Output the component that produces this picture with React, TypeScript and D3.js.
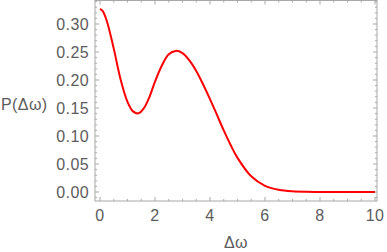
import * as d3 from "d3";

// curve
const omega = [0, 0.1, 0.25, 0.5, 0.75, 1.0, 1.2, 1.4, 1.6, 1.8, 2.0, 2.25, 2.5, 2.75, 3.0, 3.25, 3.5, 3.75, 4.0, 4.25, 4.5, 4.75, 5.0, 5.5, 6.0, 6.5, 7.0, 7.5, 8, 9, 10];
const prob = [0.327, 0.323, 0.305, 0.256, 0.201, 0.161, 0.144, 0.1405, 0.15, 0.17, 0.197, 0.226, 0.246, 0.252, 0.248, 0.235, 0.216, 0.192, 0.166, 0.138, 0.11, 0.084, 0.061, 0.028, 0.011, 0.004, 0.0012, 0.0003, 0, 0, 0];

const xTicks = [0, 2, 4, 6, 8, 10];
const yTicks = [0, 0.05, 0.1, 0.15, 0.2, 0.25, 0.3];
const xLabel = "Δω";
const yLabel = "P(Δω)";

const W = 387;
const H = 252;
const frame = { left: 95, right: 377, top: 0.5, bottom: 201 };

const FONT = "'Liberation Sans', Arial, sans-serif";
const TEXT = "#5c5c5c";
const AXIS = "#a8a8a8";

export default function App() {
  const x = d3.scaleLinear().domain([0, 10]).range([100, 375]);
  const y = d3.scaleLinear().domain([0, 0.3]).range([192, 24]);

  const points = omega.map((w, i) => [w, prob[i]] as [number, number]);
  const line = d3
    .line<[number, number]>()
    .x((d) => x(d[0]))
    .y((d) => y(d[1]))
    .curve(d3.curveCatmullRom.alpha(0.5))(points)!;

  // minor ticks every 0.5 in x, every 0.01 in y
  const xMinor = d3.range(0, 10.01, 0.5).filter((v) => Math.abs(v % 2) > 1e-6);
  const yMinor = d3.range(-0.01, 0.341, 0.01).filter(
    (v) => Math.abs(Math.round(v * 100) % 5) !== 0
  );

  return (
    <svg
      width={W}
      height={H}
      style={{ position: "absolute", left: 0, top: 0 }}
      fontFamily={FONT}
    >
      <rect
        x={frame.left}
        y={frame.top}
        width={frame.right - frame.left}
        height={frame.bottom - frame.top}
        fill="none"
        stroke={AXIS}
        strokeWidth={1}
      />
      <g stroke={AXIS} strokeWidth={1}>
        {xTicks.map((t) => (
          <g key={"xt" + t}>
            <line x1={x(t)} x2={x(t)} y1={frame.bottom} y2={frame.bottom - 4} />
            <line x1={x(t)} x2={x(t)} y1={frame.top} y2={frame.top + 4} />
          </g>
        ))}
        {xMinor.map((t) => (
          <g key={"xm" + t}>
            <line x1={x(t)} x2={x(t)} y1={frame.bottom} y2={frame.bottom - 2} />
            <line x1={x(t)} x2={x(t)} y1={frame.top} y2={frame.top + 2} />
          </g>
        ))}
        {yTicks.map((t) => (
          <g key={"yt" + t}>
            <line x1={frame.left} x2={frame.left + 4} y1={y(t)} y2={y(t)} />
            <line x1={frame.right} x2={frame.right - 4} y1={y(t)} y2={y(t)} />
          </g>
        ))}
        {yMinor.map((t) => (
          <g key={"ym" + t}>
            <line x1={frame.left} x2={frame.left + 2} y1={y(t)} y2={y(t)} />
            <line x1={frame.right} x2={frame.right - 2} y1={y(t)} y2={y(t)} />
          </g>
        ))}
      </g>
      <g fill={TEXT} fontSize={16} letterSpacing={0.4}>
        {xTicks.map((t) => (
          <text key={"xl" + t} x={x(t)} y={220.5} textAnchor="middle">
            {t}
          </text>
        ))}
        {yTicks.map((t) => (
          <text
            key={"yl" + t}
            x={89}
            y={y(t)}
            textAnchor="end"
            dominantBaseline="central"
          >
            {d3.format(".2f")(t)}
          </text>
        ))}
        <text x={236} y={248} textAnchor="middle">
          {xLabel}
        </text>
        <text x={1} y={104} dominantBaseline="central">
          {yLabel}
        </text>
      </g>
      <path d={line} fill="none" stroke="#ff0000" strokeWidth={2} />
    </svg>
  );
}
